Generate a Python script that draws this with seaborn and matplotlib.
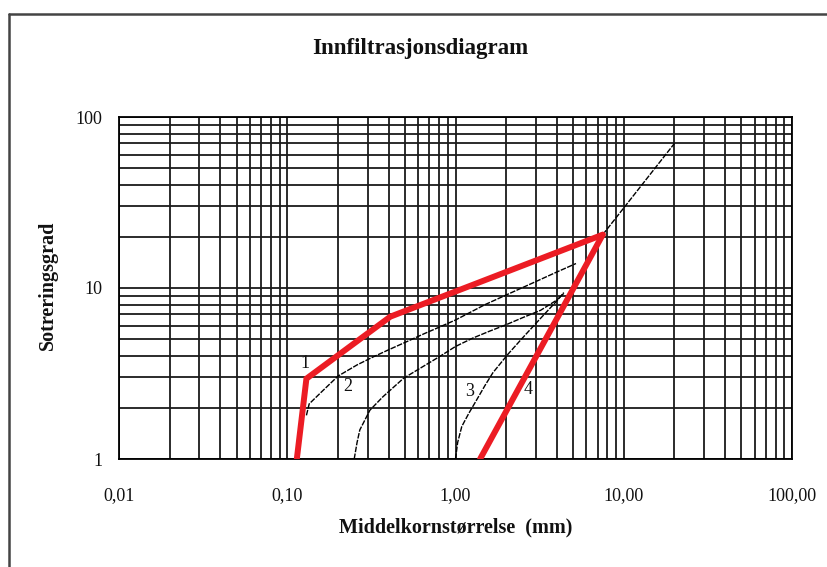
import numpy as np
import pandas as pd
import matplotlib
matplotlib.use("Agg")
import matplotlib.pyplot as plt
import seaborn as sns
from matplotlib.ticker import LogLocator, NullFormatter
from matplotlib.lines import Line2D

# ---- text ----
title = "Innfiltrasjonsdiagram"
xlabel = "Middelkornstørrelse  (mm)"
ylabel = "Sotreringsgrad"
xticks = [0.01, 0.1, 1, 10, 100]
xticklabels = ["0,01", "0,10", "1,00", "10,00", "100,00"]
yticks = [1, 10, 100]
yticklabels = ["1", "10", "100"]

# ---- data ----
red1_x = [0.114, 0.13, 0.41, 7.5]
red1_y = [1.0, 2.95, 6.8, 20.5]
red4_x = [1.4, 7.5]
red4_y = [1.0, 20.5]
ext_x = [7.5, 20.0]
ext_y = [20.5, 70.0]
thinA_x = [0.13, 0.135, 0.16, 0.2, 0.26, 0.32, 0.4, 0.5, 0.65, 0.8, 1.0, 1.5, 2.0, 3.0, 4.0, 5.2]
thinA_y = [1.8, 2.1, 2.47, 3.05, 3.55, 3.93, 4.35, 4.8, 5.4, 5.9, 6.5, 8.0, 9.1, 10.9, 12.4, 13.9]
thinB_x = [0.25, 0.26, 0.27, 0.31, 0.37, 0.49, 0.64, 0.8, 1.0, 1.27, 1.6, 2.0, 2.5, 3.2, 4.0, 4.4]
thinB_y = [1.0, 1.25, 1.48, 1.93, 2.31, 2.96, 3.47, 3.96, 4.55, 5.1, 5.6, 6.1, 6.7, 7.4, 8.5, 9.3]
thin3_x = [1.0, 1.03, 1.09, 1.2, 1.33, 1.5, 1.67, 2.05, 2.5, 3.0, 3.5, 4.0, 4.4]
thin3_y = [1.0, 1.25, 1.55, 1.85, 2.2, 2.7, 3.2, 4.1, 5.1, 6.2, 7.3, 8.4, 9.4]
labels = ["1", "2", "3", "4"]
label_x = [0.127, 0.23, 1.21, 2.70]
label_y = [3.63, 2.65, 2.47, 2.56]

sns.set_style("white")
plt.rcParams["font.family"] = ["Liberation Serif", "DejaVu Serif"]

fig = plt.figure(figsize=(8.27, 5.67), dpi=100)
ax = fig.add_axes([119/827, 1-459/567, 673/827, 342/567])
ax.set_xscale("log")
ax.set_yscale("log")
ax.set_xlim(0.01, 100)
ax.set_ylim(1, 100)

grid_c = "#1a1a1a"
ax.xaxis.set_minor_locator(LogLocator(base=10, subs=range(2, 10)))
ax.yaxis.set_minor_locator(LogLocator(base=10, subs=range(2, 10)))
ax.xaxis.set_minor_formatter(NullFormatter())
ax.yaxis.set_minor_formatter(NullFormatter())
ax.grid(True, which="both", color=grid_c, lw=1.3)
ax.set_axisbelow(True)

def draw(xs, ys, color, lw, dashes=None):
    df = pd.DataFrame({"x": xs, "y": ys})
    sns.lineplot(data=df, x="x", y="y", ax=ax, sort=False, estimator=None,
                 color=color, lw=lw, zorder=3)
    line = ax.get_lines()[-1]
    if dashes is not None:
        line.set_dashes(dashes)
    return line

draw(ext_x, ext_y, "black", 1.0, (4, 1.0))
draw(thinA_x, thinA_y, "black", 1.0, (4, 1.0))
draw(thinB_x, thinB_y, "black", 1.0, (4, 1.0))
draw(thin3_x, thin3_y, "black", 1.0, (4, 1.0))
r1 = draw(red1_x, red1_y, "#ec1c24", 4.3)
r4 = draw(red4_x, red4_y, "#ec1c24", 4.3)
for l in (r1, r4):
    l.set_solid_joinstyle("miter")
    l.set_zorder(4)

for t, x, y in zip(labels, label_x, label_y):
    ax.text(x, y, t, fontsize=13, ha="center", va="center", zorder=5, color="#111111")

ax.set_xticks(xticks)
ax.set_xticklabels(xticklabels)
ax.set_yticks(yticks)
ax.set_yticklabels(yticklabels)
ax.tick_params(axis="x", which="major", length=5, width=1.2, direction="out",
               pad=15, labelsize=13, color="black", labelcolor="#111111")
ax.tick_params(axis="y", which="major", length=4, width=1.2, direction="out",
               pad=8, labelsize=13, color="black", labelcolor="#111111")
ax.tick_params(which="minor", length=0)
for s in ax.spines.values():
    s.set_color("black")
    s.set_linewidth(1.3)

ax.set_xlabel(xlabel, fontsize=14.5, fontweight="bold", color="#111111")
ax.xaxis.set_label_coords(0.5, -0.17)
ax.set_ylabel(ylabel, fontsize=14.5, fontweight="bold", color="#111111")
ax.yaxis.set_label_coords(-0.09, 0.509)

fig.text(0.508, 0.915, title, fontsize=16.5, fontweight="bold", ha="center",
         va="center", color="#111111")

# figure frame (left & top edges)
fig.add_artist(Line2D([9/827, 9/827], [0, 1-13.5/567], transform=fig.transFigure,
                      color="#444444", lw=1.8))
fig.add_artist(Line2D([9/827, 1], [1-13.5/567, 1-13.5/567], transform=fig.transFigure,
                      color="#444444", lw=1.8))

fig.savefig("out.png", dpi=100)
